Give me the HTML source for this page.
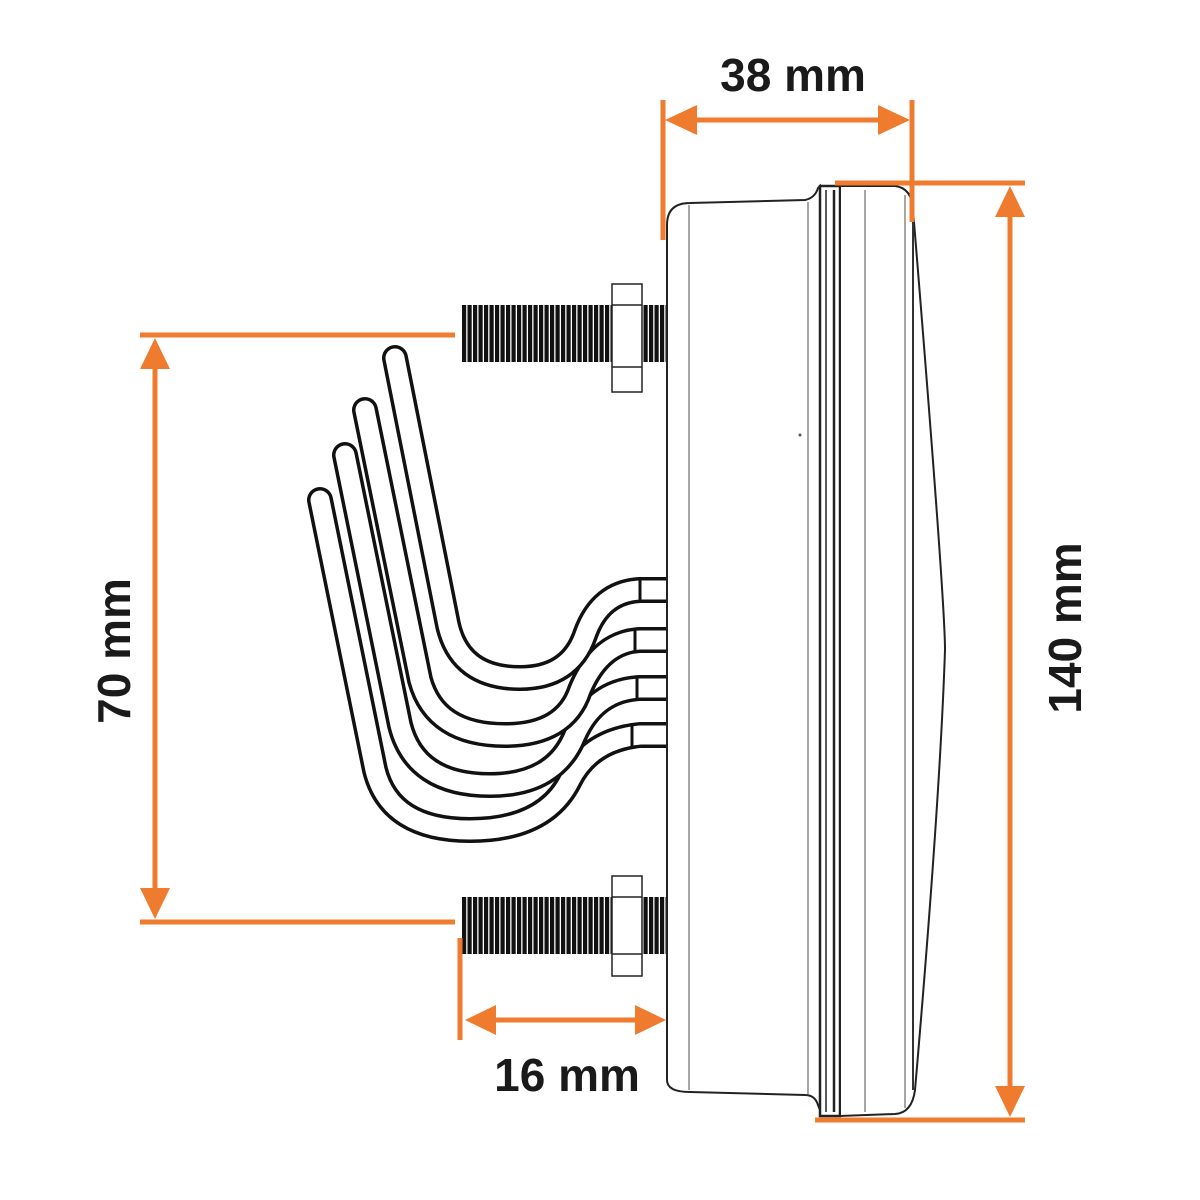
<!DOCTYPE html>
<html><head><meta charset="utf-8"><style>
html,body{margin:0;padding:0;background:#fff;}
svg{display:block;}
text{font-family:"Liberation Sans",sans-serif;font-weight:bold;fill:#1a1a1a;}
</style></head><body>
<svg width="1200" height="1200" viewBox="0 0 1200 1200" xmlns="http://www.w3.org/2000/svg">
<defs>
<pattern id="thr" x="0" y="0" width="5.5" height="10" patternUnits="userSpaceOnUse">
<rect width="5.5" height="10" fill="#111"/><rect x="4.2" width="1.3" height="10" fill="#fff"/>
</pattern>
</defs>
<rect width="1200" height="1200" fill="#fff"/>

<!-- bolts -->
<rect x="462" y="305" width="205" height="57" fill="url(#thr)"/>
<rect x="612" y="284" width="30" height="108" fill="#fff" stroke="#222" stroke-width="1.5"/>
<line x1="612" y1="305" x2="642" y2="305" stroke="#222" stroke-width="1.5"/>
<line x1="612" y1="367" x2="642" y2="367" stroke="#222" stroke-width="1.5"/>
<rect x="462" y="897" width="205" height="57" fill="url(#thr)"/>
<rect x="612" y="876" width="30" height="100" fill="#fff" stroke="#222" stroke-width="1.5"/>
<line x1="612" y1="897" x2="642" y2="897" stroke="#222" stroke-width="1.5"/>
<line x1="612" y1="954" x2="642" y2="954" stroke="#222" stroke-width="1.5"/>

<!-- wires (back to front) -->
<g fill="none" stroke-linecap="round" stroke-linejoin="round">
<path stroke="#111" stroke-width="26" d="M320 500 L375 770 Q390 830 470 830 Q545 830 570 780 Q590 740 640 735 L675 735"/>
<path stroke="#fff" stroke-width="19" d="M320 500 L375 770 Q390 830 470 830 Q545 830 570 780 Q590 740 640 735 L675 735"/>
<path stroke="#111" stroke-width="26" d="M345 455 L400 725 Q415 785 490 785 Q555 785 575 735 Q595 690 640 688 L675 688"/>
<path stroke="#fff" stroke-width="19" d="M345 455 L400 725 Q415 785 490 785 Q555 785 575 735 Q595 690 640 688 L675 688"/>
<path stroke="#111" stroke-width="26" d="M365 410 L420 680 Q435 735 505 735 Q565 735 580 690 Q600 642 640 640 L675 640"/>
<path stroke="#fff" stroke-width="19" d="M365 410 L420 680 Q435 735 505 735 Q565 735 580 690 Q600 642 640 640 L675 640"/>
<path stroke="#111" stroke-width="26" d="M395 358 L448 625 Q460 678 520 678 Q570 678 585 635 Q600 592 640 590 L675 590"/>
<path stroke="#fff" stroke-width="19" d="M395 358 L448 625 Q460 678 520 678 Q570 678 585 635 Q600 592 640 590 L675 590"/>
</g>
<g stroke="#111" stroke-width="3">
<line x1="640" y1="578" x2="640" y2="602"/>
<line x1="635" y1="628" x2="635" y2="652"/>
<line x1="637" y1="676" x2="637" y2="700"/>
<line x1="632" y1="723" x2="632" y2="747"/>
</g>

<!-- housing -->
<path d="M667 1080 L667 225 Q667 203 690 203 L805 200 Q815 198 818 188 L820 186 L820 1110 L818 1105 Q815 1095 805 1095 L690 1092 Q667 1092 667 1080 Z" fill="#fff" stroke="#222" stroke-width="2"/>
<line x1="689" y1="205" x2="689" y2="1090" stroke="#888" stroke-width="1.5"/>
<line x1="808" y1="202" x2="808" y2="1094" stroke="#888" stroke-width="1.5"/>
<!-- rim -->
<rect x="820" y="186" width="20" height="930" fill="#fff" stroke="#222" stroke-width="2.5"/>
<line x1="826" y1="190" x2="826" y2="1112" stroke="#222" stroke-width="1.5"/>
<line x1="834" y1="190" x2="834" y2="1112" stroke="#222" stroke-width="2.5"/>
<!-- lens -->
<path d="M840 186 L895 186 Q912 188 913 210 Q945 600 945 650 Q940 800 915 1090 Q912 1113 895 1114 L840 1116 Z" fill="#fff" stroke="#222" stroke-width="2"/>
<line x1="865" y1="190" x2="865" y2="1112" stroke="#888" stroke-width="1.5"/>
<line x1="905" y1="195" x2="905" y2="1108" stroke="#888" stroke-width="1.5"/>
<line x1="913" y1="210" x2="913" y2="1090" stroke="#333" stroke-width="2"/>
<circle cx="800" cy="435" r="1.5" fill="#555"/>

<!-- dimensions -->
<g stroke="#ef7b2e" stroke-width="5" fill="none">
<line x1="663" y1="100" x2="663" y2="240"/>
<line x1="912" y1="100" x2="912" y2="222"/>
<line x1="690" y1="120" x2="885" y2="120"/>
<line x1="835" y1="183" x2="1025" y2="183"/>
<line x1="815" y1="1120" x2="1025" y2="1120"/>
<line x1="1010" y1="210" x2="1010" y2="1093"/>
<line x1="140" y1="335" x2="455" y2="335"/>
<line x1="140" y1="922" x2="455" y2="922"/>
<line x1="155" y1="362" x2="155" y2="895"/>
<line x1="460" y1="938" x2="460" y2="1040"/>
<line x1="490" y1="1020" x2="640" y2="1020"/>
</g>
<g fill="#ef7b2e">
<polygon points="665,120 697,105 697,135"/>
<polygon points="910,120 878,105 878,135"/>
<polygon points="1010,186 995,217 1025,217"/>
<polygon points="1010,1117 995,1086 1025,1086"/>
<polygon points="155,338 140,369 170,369"/>
<polygon points="155,919 140,888 170,888"/>
<polygon points="465,1020 496,1005 496,1035"/>
<polygon points="666,1020 635,1005 635,1035"/>
</g>
<text x="793" y="91" font-size="46" text-anchor="middle">38 mm</text>
<text x="567" y="1091" font-size="46" text-anchor="middle">16 mm</text>
<text x="0" y="0" font-size="46" text-anchor="middle" transform="translate(130,651) rotate(-90)">70 mm</text>
<text x="0" y="0" font-size="46" text-anchor="middle" transform="translate(1081,628) rotate(-90)">140 mm</text>
</svg>
</body></html>
